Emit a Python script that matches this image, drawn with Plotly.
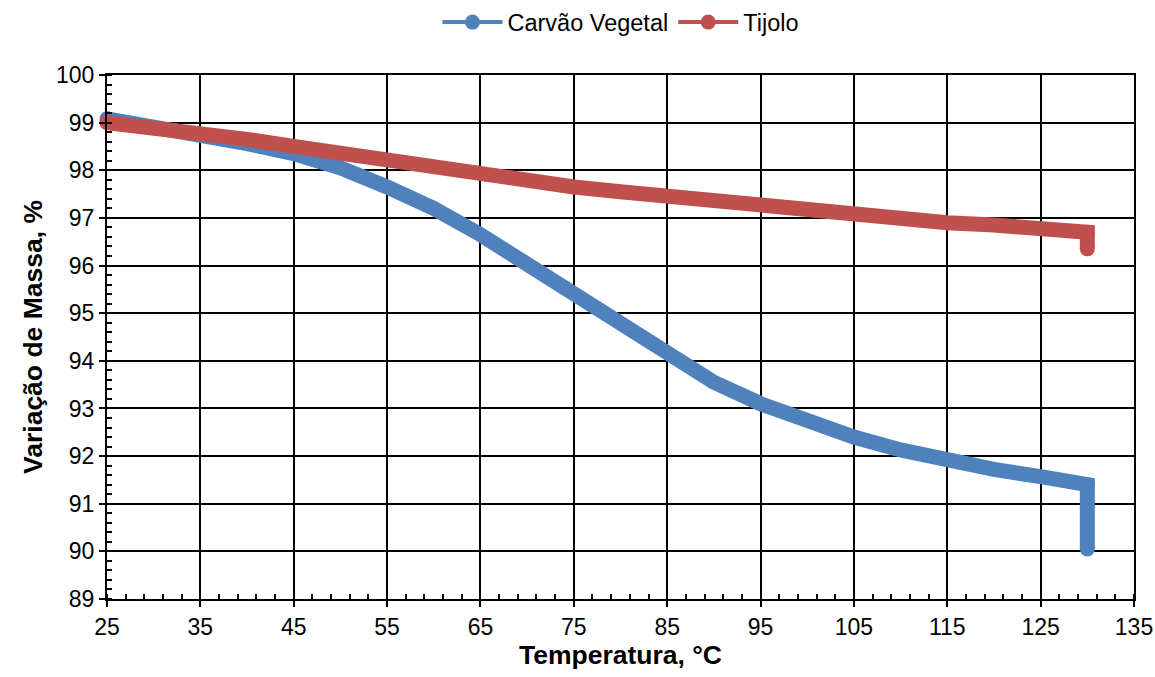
import plotly.graph_objects as go

temp_carvao = [25, 30, 35, 40, 45, 50, 55, 60, 65, 70, 75, 80, 85, 90, 95, 100, 105, 110, 115, 120, 125, 130, 130]
massa_carvao = [99.08, 98.92, 98.75, 98.56, 98.35, 98.05, 97.65, 97.2, 96.65, 96.03, 95.35, 94.7, 94.1, 93.55, 93.1, 92.72, 92.4, 92.13, 91.9, 91.72, 91.57, 91.4, 90.05]

temp_tijolo = [25, 30, 35, 40, 45, 50, 55, 60, 65, 70, 75, 80, 85, 90, 95, 100, 105, 110, 115, 120, 125, 130, 130]
massa_tijolo = [99.0, 98.9, 98.8, 98.65, 98.5, 98.35, 98.2, 98.05, 97.9, 97.78, 97.65, 97.55, 97.45, 97.35, 97.26, 97.18, 97.1, 97.0, 96.9, 96.85, 96.78, 96.7, 96.35]

BLUE = "#4F81BD"
RED = "#C0504D"
FONT = "Liberation Sans, Arial, sans-serif"


def cap_sizes(n, s=15):
    # round markers only at the ends and the corner of each series (caps)
    sizes = [0] * n
    sizes[0] = s
    sizes[-2] = s
    sizes[-1] = s
    return sizes


fig = go.Figure()
fig.add_trace(go.Scatter(x=temp_carvao, y=massa_carvao, name="Carvão Vegetal",
                         mode="lines+markers", showlegend=False, cliponaxis=False,
                         line=dict(color=BLUE, width=15),
                         marker=dict(color=BLUE, size=cap_sizes(len(temp_carvao)), opacity=1,
                                     line=dict(width=0))))
fig.add_trace(go.Scatter(x=temp_tijolo, y=massa_tijolo, name="Tijolo",
                         mode="lines+markers", showlegend=False, cliponaxis=False,
                         line=dict(color=RED, width=15),
                         marker=dict(color=RED, size=cap_sizes(len(temp_tijolo)), opacity=1,
                                     line=dict(width=0))))
# legend entries
fig.add_trace(go.Scatter(x=[None], y=[None], name="Carvão Vegetal", mode="lines+markers",
                         line=dict(color=BLUE, width=4), marker=dict(color=BLUE, size=15)))
fig.add_trace(go.Scatter(x=[None], y=[None], name="Tijolo", mode="lines+markers",
                         line=dict(color=RED, width=4), marker=dict(color=RED, size=15)))

axis_font = dict(family=FONT, size=23, color="black")
xtitle_font = dict(family=FONT, size=26.5, color="black")
ytitle_font = dict(family=FONT, size=26.5, color="black")

fig.update_layout(
    width=1155, height=677,
    paper_bgcolor="white", plot_bgcolor="white",
    margin=dict(l=107, r=21, t=75, b=78),
    font=axis_font,
    showlegend=True,
    legend=dict(orientation="h", x=0.5, xanchor="center", y=0.967, yanchor="middle",
                yref="container", font=dict(size=23.5, family=FONT, color="black"),
                itemwidth=60, tracegroupgap=0),
    xaxis=dict(range=[25, 135], tick0=25, dtick=10, showgrid=True, gridcolor="black", gridwidth=1.5,
               showline=True, linecolor="black", linewidth=2, mirror=True, automargin=False,
               ticks="outside", ticklen=6, tickwidth=2, tickcolor="black",
               minor=dict(dtick=2, tick0=25, ticks="inside", ticklen=5, tickwidth=1.5, tickcolor="black", showgrid=False),
               title=dict(text="<b>Temperatura, °C</b>", font=xtitle_font, standoff=4),
               zeroline=False, tickfont=axis_font),
    yaxis=dict(range=[89, 100], tick0=89, dtick=1, showgrid=True, gridcolor="black", gridwidth=1.5,
               showline=True, linecolor="black", linewidth=2, mirror=True, automargin=False,
               ticks="outside", ticklen=6, tickwidth=2, tickcolor="black",
               minor=dict(dtick=0.2, ticks="inside", ticklen=5, tickwidth=1.5, tickcolor="black", showgrid=False),
               title=dict(text="<b>Variação de Massa, %</b>", font=ytitle_font, standoff=6),
               zeroline=False, tickfont=axis_font),
)

fig.write_html("out.html")
